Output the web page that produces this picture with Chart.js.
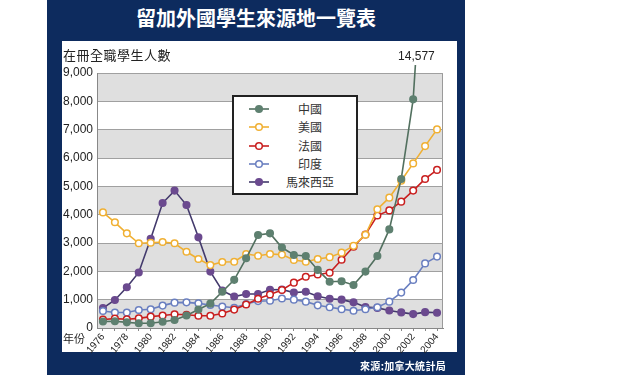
<!DOCTYPE html>
<html>
<head>
<meta charset="utf-8">
<script src="https://cdn.jsdelivr.net/npm/chart.js@4.4.0/dist/chart.umd.min.js"></script>
<style>
  body { margin: 0; background: #fff; }
  #wrap { position: relative; width: 640px; height: 375px; background: #fff; overflow: hidden; }
  .abs { position: absolute; }
  #navy { left: 47px; top: 0; width: 418px; height: 375px; background: #0d2b5e; }
  #panel { left: 62px; top: 41px; width: 395px; height: 311px; background: #fff; }
  #title { left: 47px; top: 4px; width: 418px; text-align: center; color: #fff;
           font: bold 20px "Noto Sans CJK TC", sans-serif; line-height: 28px; }
  #ytitle { left: 63px; top: 45px; color: #222; font: 13px "Noto Sans CJK TC", sans-serif; letter-spacing: 0.5px; }
  #year { left: 63px; top: 330px; color: #222; font: 11px "Noto Sans CJK TC", sans-serif; }
  #source { left: 300px; top: 358px; width: 146px; text-align: right; color: #fff;
            font: bold 10px "Noto Sans CJK TC", sans-serif; letter-spacing: 0.3px; }
  #legend { left: 232px; top: 95px; width: 126px; height: 100px; box-sizing: border-box;
            border: 2px solid #222; background: #fff; }
  .row { position: absolute; left: 0; width: 122px; height: 18px; }
  .row svg { position: absolute; left: 13px; top: 0; }
  .row span { position: absolute; left: 44px; width: 64px; text-align: center; top: 0; line-height: 18px;
              font: 12px "Noto Sans CJK TC", sans-serif; color: #333; }
  canvas { position: absolute; left: 0; top: 0; }
</style>
</head>
<body>
<div id="wrap">
  <div id="navy" class="abs"></div>
  <div id="panel" class="abs"></div>
  <div id="title" class="abs">留加外國學生來源地一覽表</div>
  <canvas id="chart" width="640" height="375"></canvas>
  <div id="ytitle" class="abs">在冊全職學生人數</div>
  <div id="year" class="abs">年份</div>
  <div id="legend" class="abs"></div>
  <div id="source" class="abs">來源:加拿大統計局</div>
</div>
<script>
// data
var years = [1976, 1977, 1978, 1979, 1980, 1981, 1982, 1983, 1984, 1985, 1986, 1987, 1988, 1989, 1990,
             1991, 1992, 1993, 1994, 1995, 1996, 1997, 1998, 1999, 2000, 2001, 2002, 2003, 2004];
var china    = [230, 240, 200, 170, 170, 220, 280, 440, 650, 860, 1280, 1700, 2460, 3280, 3340,
                2840, 2575, 2540, 2050, 1635, 1650, 1520, 1990, 2540, 3480, 5260, 8070, 14577, null];
var usa      = [4080, 3730, 3340, 2990, 3010, 3035, 2990, 2690, 2435, 2220, 2330, 2340, 2610, 2550, 2610,
                2590, 2400, 2340, 2435, 2500, 2660, 2900, 3290, 4190, 4600, 5200, 5810, 6420, 7010];
var france   = [300, 330, 310, 340, 400, 440, 485, 470, 430, 430, 510, 650, 830, 1030, 1180,
                1340, 1600, 1810, 1890, 1950, 2410, 2870, 3300, 3970, 4150, 4460, 4850, 5260, 5580];
var india    = [600, 545, 545, 635, 660, 790, 895, 905, 870, 810, 760, 715, 845, 950, 960,
                1040, 1000, 930, 800, 730, 665, 610, 660, 730, 930, 1250, 1695, 2280, 2520];
var malaysia = [700, 990, 1440, 1960, 3150, 4410, 4850, 4340, 3200, 1990, 1320, 1110, 1200, 1200, 1350,
                1360, 1250, 1280, 1120, 1035, 1000, 905, 740, 710, 620, 550, 490, 560, 540];
var yTicks = [0, 1000, 2000, 3000, 4000, 5000, 6000, 7000, 8000, 9000];
var peakLabel = '14,577';

var series = [
  { name: '中國',     data: china,    line: '#52705f', dot: '#5e8070', fill: '#5e8070' },
  { name: '美國',     data: usa,      line: '#f0b033', dot: '#f0b033', fill: '#fff' },
  { name: '法國',     data: france,   line: '#c91f1f', dot: '#c91f1f', fill: '#fff' },
  { name: '印度',     data: india,    line: '#6a7fc0', dot: '#6a7fc0', fill: '#fff' },
  { name: '馬來西亞', data: malaysia, line: '#433a6c', dot: '#6b4a8f', fill: '#6b4a8f' }
];

// legend in html
var legend = document.getElementById('legend');
series.forEach(function(s, i){
  var row = document.createElement('div');
  row.className = 'row';
  row.style.top = (3 + i * 18.3) + 'px';
  row.innerHTML = '<svg width="24" height="18"><line x1="2" y1="9" x2="22" y2="9" stroke="' + s.line +
    '" stroke-width="1.6"/><circle cx="12" cy="9" r="3.3" fill="' + s.fill + '" stroke="' + s.dot +
    '" stroke-width="1.5"/></svg><span>' + s.name + '</span>';
  legend.appendChild(row);
});

var numFont = { family: "'Liberation Sans', Arial, sans-serif", size: 10 };

var bands = {
  id: 'bands',
  beforeDraw: function(chart){
    var a = chart.chartArea, y = chart.scales.y, ctx = chart.ctx;
    ctx.save();
    for (var i = 0; i < yTicks.length - 1; i += 2) {
      var top = y.getPixelForValue(yTicks[i + 1]), bot = y.getPixelForValue(yTicks[i]);
      ctx.fillStyle = '#dfdfdf';
      ctx.fillRect(a.left, top, a.right - a.left, bot - top);
    }
    ctx.strokeStyle = '#9a9a9a';
    ctx.lineWidth = 1;
    ctx.strokeRect(a.left + 0.5, a.top + 0.5, a.right - a.left - 1, a.bottom - a.top);
    ctx.restore();
  },
  afterDraw: function(chart){
    // label of the clipped china value
    var meta = chart.getDatasetMeta(0), ctx = chart.ctx;
    var i = china.indexOf(14577);
    var p0 = meta.data[i - 1], p1 = meta.data[i];
    var yEnd = chart.chartArea.top - 8;
    var t = (p0.y - yEnd) / (p0.y - p1.y);
    var xEnd = p0.x + (p1.x - p0.x) * t;
    ctx.save();
    ctx.fillStyle = '#222';
    ctx.font = "12px 'Liberation Sans', Arial, sans-serif";
    ctx.textAlign = 'center';
    ctx.textBaseline = 'alphabetic';
    ctx.fillText(peakLabel, xEnd + 1, yEnd - 5);
    ctx.restore();
  }
};

new Chart(document.getElementById('chart').getContext('2d'), {
  type: 'line',
  data: {
    labels: years,
    datasets: series.map(function(s, i){
      return {
        label: s.name,
        data: s.data,
        borderColor: s.line,
        borderWidth: 1.6,
        pointRadius: 3.3,
        pointBorderWidth: 1.5,
        pointBorderColor: s.dot,
        pointBackgroundColor: s.fill,
        tension: 0,
        clip: i === 0 ? { left: 0, top: 8, right: 0, bottom: 0 } : 0
      };
    })
  },
  options: {
    responsive: false,
    animation: false,
    layout: { padding: { left: 0, top: 73, right: 197, bottom: 0 } },
    plugins: { legend: { display: false }, tooltip: { enabled: false } },
    scales: {
      x: {
        type: 'category',
        offset: true,
        grid: { drawOnChartArea: false, drawTicks: true, tickLength: 3, color: '#888', offset: false },
        border: { color: '#888' },
        ticks: {
          autoSkip: false, maxRotation: 50, minRotation: 50, padding: 0,
          color: '#222', font: numFont,
          callback: function(v, i){ return years[i] % 2 === 0 ? String(years[i]) : ''; }
        },
        afterFit: function(s){ s.height = 47; }
      },
      y: {
        min: 0, max: 9000,
        afterBuildTicks: function(s){ s.ticks = yTicks.map(function(v){ return { value: v }; }); },
        grid: { color: '#a0a0a0', drawTicks: false },
        border: { color: '#888' },
        ticks: {
          padding: 4, color: '#222', font: { family: numFont.family, size: 12 },
          callback: function(v){ return v.toLocaleString('en-US'); }
        },
        afterFit: function(s){ s.width = 97; }
      }
    }
  },
  plugins: [bands]
});
</script>
</body>
</html>
